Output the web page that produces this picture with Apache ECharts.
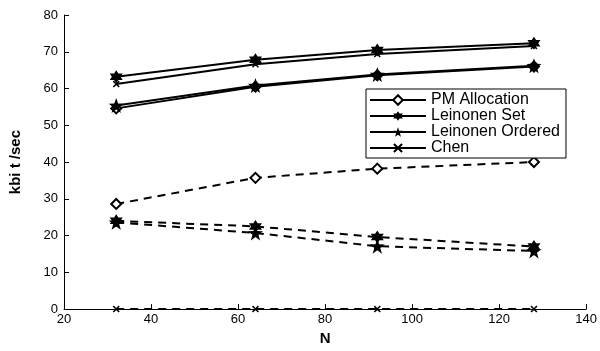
<!DOCTYPE html>
<html><head><meta charset="utf-8">
<script src="https://cdn.jsdelivr.net/npm/echarts@6/dist/echarts.min.js"></script>
<style>html,body{margin:0;padding:0;background:#fff}#c{width:600px;height:351px}</style>
</head><body><div id="c"></div>
<script>
var xValues = [32, 64, 92, 128];
var xTicks = [20, 40, 60, 80, 100, 120, 140];
var yTicks = [0, 10, 20, 30, 40, 50, 60, 70, 80];
var legendNames = ['PM Allocation', 'Leinonen Set', 'Leinonen Ordered', 'Chen'];
// solid lines
var pmSolid = [54.6, 60.5, 63.6, 66.0];
var setSolid = [63.2, 67.8, 70.5, 72.3];
var orderedSolid = [55.4, 60.8, 63.8, 66.2];
var chenSolid = [61.2, 66.6, 69.4, 71.6];
// dashed lines
var pmDashed = [28.6, 35.7, 38.2, 40.0];
var setDashed = [24.0, 22.5, 19.6, 17.0];
var orderedDashed = [23.6, 20.7, 17.1, 15.8];
var chenDashed = [0, 0, 0, 0];

var hexagram = 'path://M0,-10 L2.887,-5 L8.66,-5 L5.774,0 L8.66,5 L2.887,5 L0,10 L-2.887,5 L-8.66,5 L-5.774,0 L-8.66,-5 L-2.887,-5 Z';
var cross = 'path://M-10,-7 L-7,-10 L0,-3 L7,-10 L10,-7 L3,0 L10,7 L7,10 L0,3 L-7,10 L-10,7 L-3,0 Z';
var star5 = 'path://M0,-10 L2.35,-3.24 L9.51,-3.09 L3.8,1.24 L5.88,8.09 L0,4 L-5.88,8.09 L-3.8,1.24 L-9.51,-3.09 L-2.35,-3.24 Z';
var font = 'Liberation Sans';

function pts(v){ return xValues.map(function(x,i){return [x, v[i]];}); }
var styles = {
  pm: {symbol:'diamond', symbolSize:10, itemStyle:{color:'#fff', borderColor:'#000', borderWidth:2}},
  set: {symbol:hexagram, symbolSize:[13,13], itemStyle:{color:'#000'}},
  ord: {symbol:star5, symbolSize:[15,15], itemStyle:{color:'#000'}},
  chen: {symbol:cross, symbolSize:[7,7], itemStyle:{color:'#000'}}
};
function mk(name, data, st, dashed){
  return {
    name: name, type:'line', data: pts(data),
    symbol: st.symbol, symbolSize: st.symbolSize, itemStyle: st.itemStyle,
    showAllSymbol:true,
    lineStyle:{color:'#000', width:2, type: dashed ? [8,6] : 'solid'},
    emphasis:{disabled:true}, animation:false, z: dashed ? 2 : 3
  };
}
var chart = echarts.init(document.getElementById('c'));
chart.setOption({
  backgroundColor:'#fff',
  animation:false,
  grid:{left:59, right:13, top:15, bottom:28},
  legend:{
    data: legendNames, orient:'vertical', left:366, top:89,
    itemWidth:56, itemHeight:12, itemGap:0,
    borderColor:'#000', borderWidth:1, backgroundColor:'#fff',
    padding:[3,6,2,3],
    selectedMode:false,
    textStyle:{fontFamily:font, fontSize:16, color:'#000', lineHeight:16}
  },
  xAxis:{
    type:'value', min:20, max:140, interval:20,
    name:'N', nameLocation:'middle', nameGap:20,
    nameTextStyle:{fontFamily:font, fontSize:15, fontWeight:'bold', color:'#000'},
    axisLine:{lineStyle:{color:'#000', width:1}},
    axisTick:{inside:true, length:5, lineStyle:{color:'#000'}},
    axisLabel:{fontFamily:font, fontSize:13, color:'#000', margin:4},
    splitLine:{show:false}
  },
  yAxis:{
    type:'value', min:0, max:80, interval:10,
    name:'kbi t /sec', nameLocation:'middle', nameGap:41,
    nameTextStyle:{fontFamily:font, fontSize:15, fontWeight:'bold', color:'#000'},
    axisLine:{show:true, lineStyle:{color:'#000', width:1}},
    axisTick:{show:true, inside:true, length:5, lineStyle:{color:'#000'}},
    axisLabel:{fontFamily:font, fontSize:13, color:'#000', margin:6},
    splitLine:{show:false}
  },
  series:[
    mk('PM Allocation', pmSolid, styles.pm, false),
    mk('Leinonen Set', setSolid, styles.set, false),
    mk('Leinonen Ordered', orderedSolid, styles.ord, false),
    mk('Chen', chenSolid, styles.chen, false),
    mk('PM Allocation d', pmDashed, styles.pm, true),
    mk('Leinonen Set d', setDashed, styles.set, true),
    mk('Leinonen Ordered d', orderedDashed, styles.ord, true),
    mk('Chen d', chenDashed, styles.chen, true)
  ]
});
</script></body></html>
